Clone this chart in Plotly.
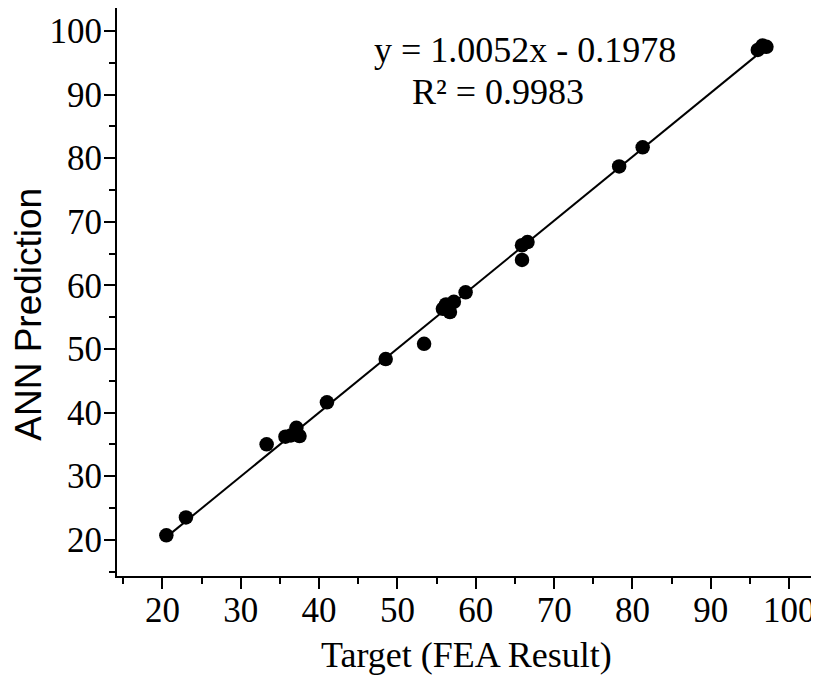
import numpy as np
import plotly.graph_objects as go

# Data (Target FEA result vs ANN prediction)
target = [20.5, 23.0, 33.3, 35.7, 36.4, 37.1, 37.5, 41.0, 48.5, 53.4,
          55.8, 56.2, 57.2, 56.7, 58.7, 65.9, 65.9, 66.6, 78.3, 81.3,
          96.0, 96.6, 97.1]
ann_pred = [20.7, 23.5, 35.0, 36.2, 36.4, 37.6, 36.3, 41.6, 48.4, 50.8,
            56.3, 57.0, 57.4, 55.8, 58.9, 64.0, 66.3, 66.8, 78.7, 81.7,
            97.0, 97.7, 97.5]
fit_coef = [1.0052, -0.1978]
fit_text = ["y = 1.0052x - 0.1978", "R\u00b2 = 0.9983"]
major_ticks = [20, 30, 40, 50, 60, 70, 80, 90, 100]

fit_x = np.array([min(target), max(target)])
fit_y = fit_coef[0] * fit_x + fit_coef[1]

fig = go.Figure()
fig.add_trace(go.Scatter(x=fit_x, y=fit_y, mode="lines",
                         line=dict(color="black", width=2), showlegend=False))
fig.add_trace(go.Scatter(x=target, y=ann_pred, mode="markers",
                         marker=dict(color="black", size=14.5), showlegend=False))

serif = "Liberation Serif, Times New Roman, serif"
axis_common = dict(
    showline=True, linewidth=2, linecolor="black",
    ticks="outside", ticklen=11, tickwidth=2, tickcolor="black",
    tickvals=major_ticks, automargin=False,
    tickfont=dict(family=serif, size=35, color="black"),
    showgrid=False, zeroline=False, mirror=False,
    minor=dict(ticks="outside", ticklen=6, tickwidth=2, tickcolor="black", dtick=5, tick0=0),
)
fig.update_xaxes(range=[14.2, 103.3], ticklabelstandoff=-9, **axis_common)
fig.update_yaxes(range=[14.3, 103.6], ticklabelstandoff=-5, **axis_common)

fig.add_annotation(text="Target (FEA Result)", xref="paper", yref="paper",
                   x=0.5, y=-0.139, xanchor="center", yanchor="middle",
                   showarrow=False, font=dict(family=serif, size=36, color="black"))
fig.add_annotation(text="ANN Prediction", xref="paper", yref="paper",
                   x=-0.126, y=0.46, xanchor="center", yanchor="middle", textangle=-90,
                   showarrow=False,
                   font=dict(family="Liberation Sans, Arial, sans-serif", size=37, color="black"))
fig.add_annotation(text=fit_text[0], xref="paper", yref="paper",
                   x=(525 - 116.7) / 698.3, y=(576 - 50) / 568, xanchor="center", yanchor="middle",
                   showarrow=False, font=dict(family=serif, size=36, color="black"))
fig.add_annotation(text=fit_text[1], xref="paper", yref="paper",
                   x=(497.5 - 116.7) / 698.3, y=(576 - 92) / 568, xanchor="center", yanchor="middle",
                   showarrow=False, font=dict(family=serif, size=36, color="black"))

# The page body adds an 8 px offset, so the figure is sized to compensate.
fig.update_layout(width=811, height=675,
                  margin=dict(l=109, r=4, t=0, b=107, autoexpand=False),
                  paper_bgcolor="white", plot_bgcolor="white")
fig.write_html("out.html")
